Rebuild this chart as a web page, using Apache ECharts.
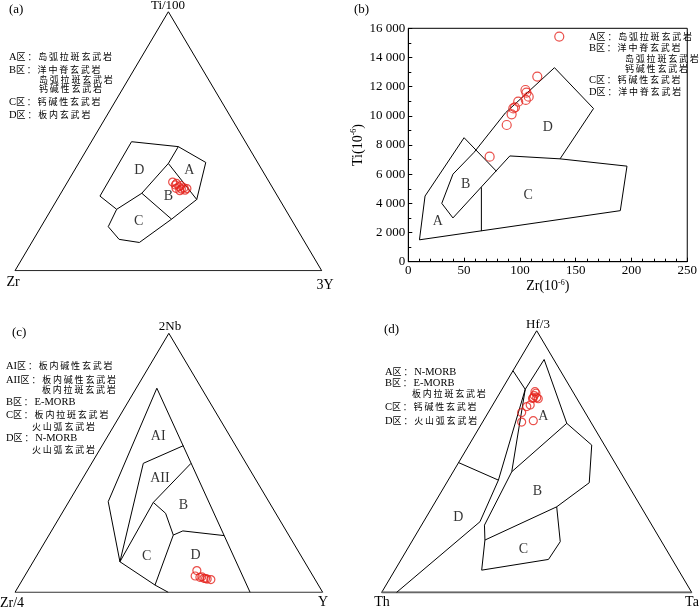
<!DOCTYPE html>
<html>
<head>
<meta charset="utf-8">
<script src="https://cdn.jsdelivr.net/npm/echarts@6/dist/echarts.min.js"></script>
<style>html,body{margin:0;padding:0;background:#fff}#c{width:700px;height:607px}</style>
</head>
<body>
<div id="c"></div>
<script>
// ---------- DATA ----------
// Panel (a): Ti/100 (top) - Zr (left) - 3Y (right), ternary percentages [top, left, right]
const aVertexNames = ['Ti/100', 'Zr', '3Y'];
const aFieldLines = [
  [[49.8,37.1,13.1],[47.9,22.8,29.3],[41.8,16.9,41.3],[27.5,27.0,45.5],[19.9,39.0,41.1],[10.9,54.0,35.1],[12.1,60.0,27.9],[17.0,61.1,21.9],[23.7,55.0,21.3],[28.8,57.9,13.3],[49.8,37.1,13.1]],
  [[47.9,22.8,29.3],[41.4,29.3,29.3],[27.5,27.0,45.5]],
  [[41.4,29.3,29.3],[29.9,43.7,26.4],[19.9,39.0,41.1]],
  [[29.9,43.7,26.4],[23.7,55.0,21.3]]
];
const aFieldNames = ['D','A','B','C'];
const aFieldLabelPos = [[38.6,40.2,21.2],[38.6,23.9,37.5],[28.6,35.7,35.7],[18.9,50.2,30.9]];
const aSamples = [[34.2,31.5,34.3],[33.1,31.2,35.7],[33.7,30.5,35.8],[32.4,30.3,37.3],[32.9,29.5,37.6],[31.5,30.0,38.5],[32.0,28.9,39.1],[31.1,29.0,39.9],[30.9,30.8,38.3],[31.8,31.6,36.6],[31.7,28.1,40.2]];
const aLegend = [['A区：岛弧拉斑玄武岩',0],['B区：洋中脊玄武岩',0],['岛弧拉斑玄武岩',1],['钙碱性玄武岩',1],['C区：钙碱性玄武岩',0],['D区：板内玄武岩',0]];

// Panel (b): Zr vs Ti (10^-6)
const bXTicks = [0,50,100,150,200,250];
const bYTicks = [0,2000,4000,6000,8000,10000,12000,14000,16000];
const bFieldLines = [
  [[10,1500],[15,4500],[50,8500],[79,6200]],
  [[40,3000],[30,4000],[40,6000],[59,7500],[87,10200],[131,13300],[166,10500],[136,7050]],
  [[40,3000],[91,7250],[136,7050],[196,6550],[190,3500],[10,1500]],
  [[65.5,5100],[65.5,2100]]
];
const bFieldNames = ['A','B','C','D'];
const bFieldLabelPos = [[26.5,2740],[51.5,5330],[107.4,4570],[125,9210]];
const bSamplesZr = [135.3,115.6,105.0,105.9,107.9,105.3,98.5,95.6,94.1,92.6,88.2,72.9];
const bSamplesTi = [15430,12690,11770,11590,11310,11090,10970,10580,10510,10100,9370,7200];
const bLegend = [['A区：岛弧拉斑玄武岩',0],['B区：洋中脊玄武岩',0],['岛弧拉斑玄武岩',1],['钙碱性玄武岩',1],['C区：钙碱性玄武岩',0],['D区：洋中脊玄武岩',0]];

// Panel (c): 2Nb (top) - Zr/4 (left) - Y (right)
const cVertexNames = ['2Nb', 'Zr/4', 'Y'];
const cFieldLines = [
  [[0,23.6,76.4],[78.8,14.5,6.7],[35.0,52.2,12.8],[11.8,60.0,28.2],[2.8,53.1,44.1],[0,50.2,49.8]],
  [[49.8,33.4,16.8],[56.6,17.0,26.4]],
  [[49.8,33.4,16.8],[11.8,60.0,28.2]],
  [[34.7,37.7,27.6],[49.8,17.9,32.3]],
  [[34.7,37.7,27.6],[11.8,60.0,28.2]],
  [[34.7,37.7,27.6],[30.5,35.8,33.7],[22.1,37.5,40.4],[23.7,33.6,42.7],[21.9,21.1,57.0]],
  [[22.1,37.5,40.4],[2.8,53.1,44.1]]
];
const cFieldNames = ['AI','AII','B','C','D'];
const cFieldLabelPos = [[60.1,23.4,16.5],[44.0,30.9,25.1],[33.7,28.4,37.9],[13.8,50.3,35.9],[14.4,34.1,51.5]];
const cSamples = [[8.4,36.7,54.9],[6.3,38.3,55.4],[5.8,37.0,57.2],[6.0,36.3,57.7],[5.4,35.9,58.7],[5.3,35.4,59.3],[5.1,35.0,59.9],[4.9,33.9,61.2]];
const cLegend = [['AI区：板内碱性玄武岩',0],['AII区：板内碱性玄武岩',0],['板内拉斑玄武岩',2],['B区：E-MORB',0],['C区：板内拉斑玄武岩',0],['火山弧玄武岩',1],['D区：N-MORB',0],['火山弧玄武岩',1]];

// Panel (d): Hf/3 (top) - Th (left) - Ta (right)
const dVertexNames = ['Hf/3', 'Th', 'Ta'];
const dFieldLines = [
  [[84.7,15.3,0],[77.6,14.9,7.5],[89.0,3.1,7.9],[64.6,8.0,27.4],[56.3,4.1,39.6],[41.9,12.1,46.0],[32.7,27.2,40.1],[19.4,32.7,47.9],[12.6,39.9,47.5],[8.5,63.5,28.0],[20.0,56.7,23.3],[25.7,54.0,20.3],[46.1,35.0,18.9],[77.6,14.9,7.5]],
  [[0,95.2,4.8],[27.0,54.8,18.2],[42.9,40.9,16.2],[77.6,14.9,7.5]],
  [[64.6,8.0,27.4],[46.1,35.0,18.9]],
  [[20.0,56.7,23.3],[32.7,27.2,40.1]],
  [[49.6,50.4,0],[42.9,40.9,16.2]]
];
const dFieldNames = ['A','B','C','D'];
const dFieldLabelPos = [[67.1,14.3,18.6],[38.5,30.5,31.0],[16.4,46.1,37.5],[28.7,60.9,10.4]];
const dSamples = [[76.7,12.2,11.1],[76.1,12.2,11.7],[75.2,13.2,11.6],[74.4,13.9,11.7],[74.4,12.8,12.8],[74.0,12.5,13.5],[74.1,14.3,11.6],[71.6,16.3,12.1],[71.0,17.7,11.3],[68.7,20.5,10.8],[65.1,22.3,12.6],[65.6,18.3,16.1]];
const dLegend = [['A区：N-MORB',0],['B区：E-MORB',0],['板内拉斑玄武岩',1],['C区：钙碱性玄武岩',0],['D区：火山弧玄武岩',0]];

// ---------- CHART ----------
const SERIF = "'Liberation Serif','Noto Sans CJK SC',serif";
const CJK = "'Noto Sans CJK SC',sans-serif";
const RED = '#e5231d';
function tern(p){ const s = p[0]+p[1]+p[2]; return [(p[2] + p[0]/2)/s, p[0]/s]; }
const TRI = [[100,0,0],[0,100,0],[0,0,100],[100,0,0]];

const grids = [
  {left:15, top:11.7, width:306.7, height:259},
  {left:408.3, top:28.3, width:283.4, height:233.4, show:true, borderColor:'#000', borderWidth:1, backgroundColor:'transparent'},
  {left:15, top:333.3, width:307.7, height:259},
  {left:381.7, top:330.7, width:310, height:261.7}
];
const xAxes = [], yAxes = [], series = [];
function hiddenAxes(i){
  xAxes.push({gridIndex:i, type:'value', min:0, max:1, show:false});
  yAxes.push({gridIndex:i, type:'value', min:0, max:1, show:false});
}
function lineSeries(i, pts, extra){
  return Object.assign({type:'line', xAxisIndex:i, yAxisIndex:i, data:pts, symbol:'none', silent:true,
    animation:false, lineStyle:{color:'#000', width:1}, z:2}, extra||{});
}
function samplesSeries(i, pts, size){
  return {type:'scatter', xAxisIndex:i, yAxisIndex:i, data:pts, symbol:'circle', symbolSize:size, animation:false, z:5,
    itemStyle:{color:'rgba(0,0,0,0)', borderColor:RED, borderWidth:1.2}};
}
function labelSeries(i, pts, names){
  return {type:'scatter', xAxisIndex:i, yAxisIndex:i, symbolSize:0, animation:false, silent:true, z:4,
    data: pts.map((p,k)=>({value:p, name:names[k]})),
    label:{show:true, position:'inside', formatter:'{b}', color:'#000', fontFamily:SERIF, fontSize:14}};
}
function ternPanel(i, lines, labelPos, names, samples, size, baseStyle){
  hiddenAxes(i);
  series.push(lineSeries(i, TRI.map(tern)));
  if (baseStyle) series.push(lineSeries(i, [TRI[1],TRI[2]].map(tern), {lineStyle:baseStyle}));
  lines.forEach(l => series.push(lineSeries(i, l.map(tern))));
  series.push(labelSeries(i, labelPos.map(tern), names));
  series.push(samplesSeries(i, samples.map(tern), size));
}

// (a) index 0
ternPanel(0, aFieldLines, aFieldLabelPos, aFieldNames, aSamples, 8);
// (b) index 1
const fmtThousands = v => String(v).replace(/\B(?=(\d{3})+(?!\d))/g, ' ');
xAxes.push({gridIndex:1, type:'value', min:bXTicks[0], max:bXTicks[bXTicks.length-1], interval:bXTicks[1]-bXTicks[0],
  name:'Zr(10{s|-6})', nameLocation:'middle', nameGap:17,
  nameTextStyle:{color:'#000', fontFamily:SERIF, fontSize:14, rich:{s:{fontSize:8, fontFamily:SERIF, color:'#000', padding:[0,0,8,0]}}},
  axisLine:{lineStyle:{color:'#000', width:1}}, axisTick:{inside:true, length:4, lineStyle:{color:'#000'}},
  minorTick:{show:true, splitNumber:5, length:3, lineStyle:{color:'#000'}},
  axisLabel:{color:'#000', fontFamily:SERIF, fontSize:13, margin:2, formatter:fmtThousands},
  splitLine:{show:false}});
yAxes.push({gridIndex:1, type:'value', min:bYTicks[0], max:bYTicks[bYTicks.length-1], interval:bYTicks[1]-bYTicks[0],
  name:'Ti(10{s|-6})', nameLocation:'middle', nameGap:42,
  nameTextStyle:{color:'#000', fontFamily:SERIF, fontSize:14, rich:{s:{fontSize:8, fontFamily:SERIF, color:'#000', padding:[0,0,8,0]}}},
  axisLine:{lineStyle:{color:'#000', width:1}}, axisTick:{inside:true, length:4, lineStyle:{color:'#000'}},
  minorTick:{show:true, splitNumber:2, length:3, lineStyle:{color:'#000'}},
  axisLabel:{color:'#000', fontFamily:SERIF, fontSize:13, margin:3, formatter:fmtThousands},
  splitLine:{show:false}});
bFieldLines.forEach(l => series.push(lineSeries(1, l)));
series.push(labelSeries(1, bFieldLabelPos, bFieldNames));
series.push(samplesSeries(1, bSamplesZr.map((z,k)=>[z, bSamplesTi[k]]), 9));
// (c) index 2
ternPanel(2, cFieldLines, cFieldLabelPos, cFieldNames, cSamples, 8);
// (d) index 3
ternPanel(3, dFieldLines, dFieldLabelPos, dFieldNames, dSamples, 8, {color:'#666', width:2});

// ---------- TEXT ----------
const graphic = [];
function txt(t, x, y, size, align){
  graphic.push({type:'text', x:x, y:y, silent:true, style:{text:t, fill:'#000', font: size+'px '+SERIF,
    textAlign:align||'left', textVerticalAlign:'middle'}});
}
// legend line: Latin runs in serif, CJK runs slightly smaller and spaced, as in the printed figure
function richLine(s){
  const runs = s.match(/[\u3000-\u9fff\uff00-\uffef]+|[^\u3000-\u9fff\uff00-\uffef]+/g) || [];
  return runs.map(r => /[\u3000-\u9fff\uff00-\uffef]/.test(r)
    ? '{c|' + r.split('').join('\u2009') + '\u2009}'
    : '{l|' + r + '}').join('');
}
function legendLine(t, x, y){
  graphic.push({type:'text', x:x, y:y, silent:true, style:{text:richLine(t), fill:'#000',
    textVerticalAlign:'middle', textAlign:'left',
    rich:{c:{fontFamily:CJK, fontSize:9, fill:'#000', color:'#000'}, l:{fontFamily:SERIF, fontSize:10.5, fill:'#000', color:'#000'}}}});
}
// panel tags
txt('(a)', 9, 10, 13); txt('(b)', 354, 10, 13); txt('(c)', 12, 333, 13); txt('(d)', 384, 330, 13);
// vertex names
txt(aVertexNames[0], 168, 6, 13, 'center'); txt(aVertexNames[1], 13, 282, 14, 'center'); txt(aVertexNames[2], 325, 285, 14, 'center');
txt(cVertexNames[0], 170, 327, 13, 'center'); txt(cVertexNames[1], 12, 603, 14, 'center'); txt(cVertexNames[2], 323, 602, 14, 'center');
txt(dVertexNames[0], 538, 325, 13, 'center'); txt(dVertexNames[1], 382, 602, 14, 'center'); txt(dVertexNames[2], 692, 602, 14, 'center');
// legends
function legend(items, x0, ys, indents){
  items.forEach((it,k)=> legendLine(it[0], x0 + indents[it[1]], ys[k]));
}
legend(aLegend, 9, [57,70,80,89,102,115], [0,30]);
legend(bLegend, 589, [37,48,59,69,80,92], [0,36]);
legend(cLegend, 6, [366,380,390,402,415,427,438,450], [0,26,36]);
legend(dLegend, 385, [372,383,394,407,421], [0,27]);

const chart = echarts.init(document.getElementById('c'), null, {renderer:'canvas'});
chart.setOption({animation:false, backgroundColor:'#fff', grid:grids, xAxis:xAxes, yAxis:yAxes, series:series, graphic:graphic});
</script>
</body>
</html>
